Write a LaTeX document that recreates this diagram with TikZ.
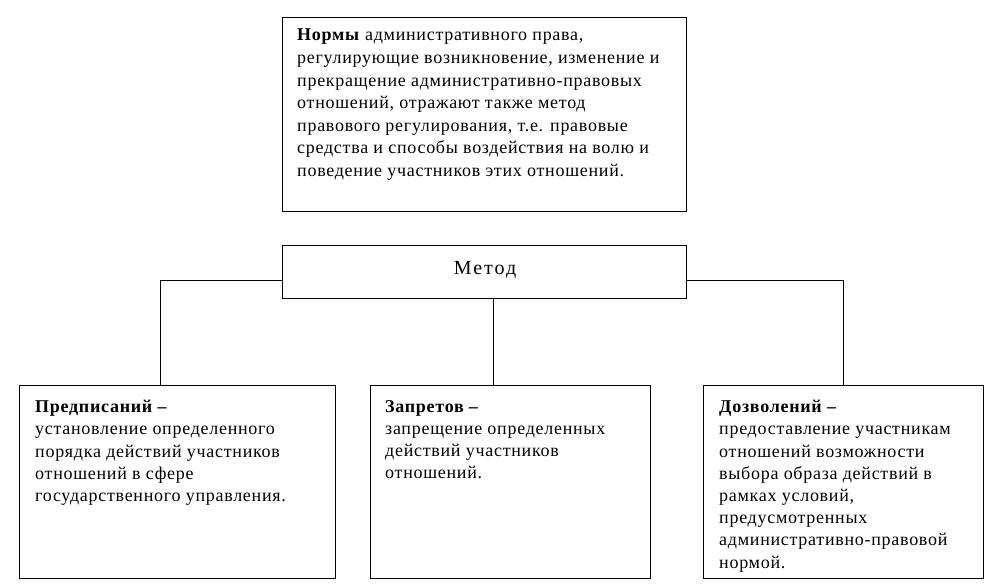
\documentclass[tikz,border=0pt]{standalone}
\usepackage{fontspec}
\setmainfont{Liberation Serif}
\begin{document}
\begin{tikzpicture}[x=1pt,y=-1pt,
  box/.style={draw=black,line width=1.2pt,anchor=north west,inner sep=0pt,fill=white},
  txt/.style={anchor=north west,inner sep=0pt,align=left,font=\fontsize{18}{22.2}\selectfont\addfontfeature{LetterSpace=4}},
  link/.style={draw=black,line width=1pt}]
\useasboundingbox[fill=white] (0,0) rectangle (1000,587);
% boxes
\node[box,minimum width=404pt,minimum height=194pt] (norm) at (282,17) {};
\node[box,minimum width=404pt,minimum height=53pt] (metod) at (282,245) {};
\node[box,minimum width=316pt,minimum height=193pt] (left) at (19,385) {};
\node[box,minimum width=280pt,minimum height=193pt] (mid) at (370,385) {};
\node[box,minimum width=280pt,minimum height=193pt] (right) at (703,385) {};
% texts
\node[txt,font=\fontsize{18}{22.6}\selectfont\addfontfeature{LetterSpace=4}] (normt) at (297,29) {\textbf{Нормы} административного права,\\регулирующие возникновение, изменение и\\прекращение административно-правовых\\отношений, отражают также метод\\правового регулирования, т.е. правовые\\средства и способы воздействия на волю и\\поведение участников этих отношений.};
\node[font=\fontsize{20}{22}\selectfont\addfontfeature{LetterSpace=10},inner sep=0pt,anchor=base] (metodt) at (485,274) {Метод};
\node[txt] (leftt) at (35,400) {\textbf{Предписаний –}\\установление определенного\\порядка действий участников\\отношений в сфере\\государственного управления.};
\node[txt] (midt) at (385,400) {\textbf{Запретов –}\\запрещение определенных\\действий участников\\отношений.};
\node[txt] (rightt) at (719,400) {\textbf{Дозволений –}\\предоставление участникам\\отношений возможности\\выбора образа действий в\\рамках условий,\\предусмотренных\\административно-правовой\\нормой.};
% connectors
\coordinate (jl) at (160,280);
\coordinate (jr) at (843,280);
\coordinate (jm) at (493,0);
\draw[link] (jl -| metod.west) -- (jl) -- (jl |- left.north);
\draw[link] (jr -| metod.east) -- (jr) -- (jr |- right.north);
\draw[link] (jm |- metod.south) -- (jm |- mid.north);
\end{tikzpicture}
\end{document}
